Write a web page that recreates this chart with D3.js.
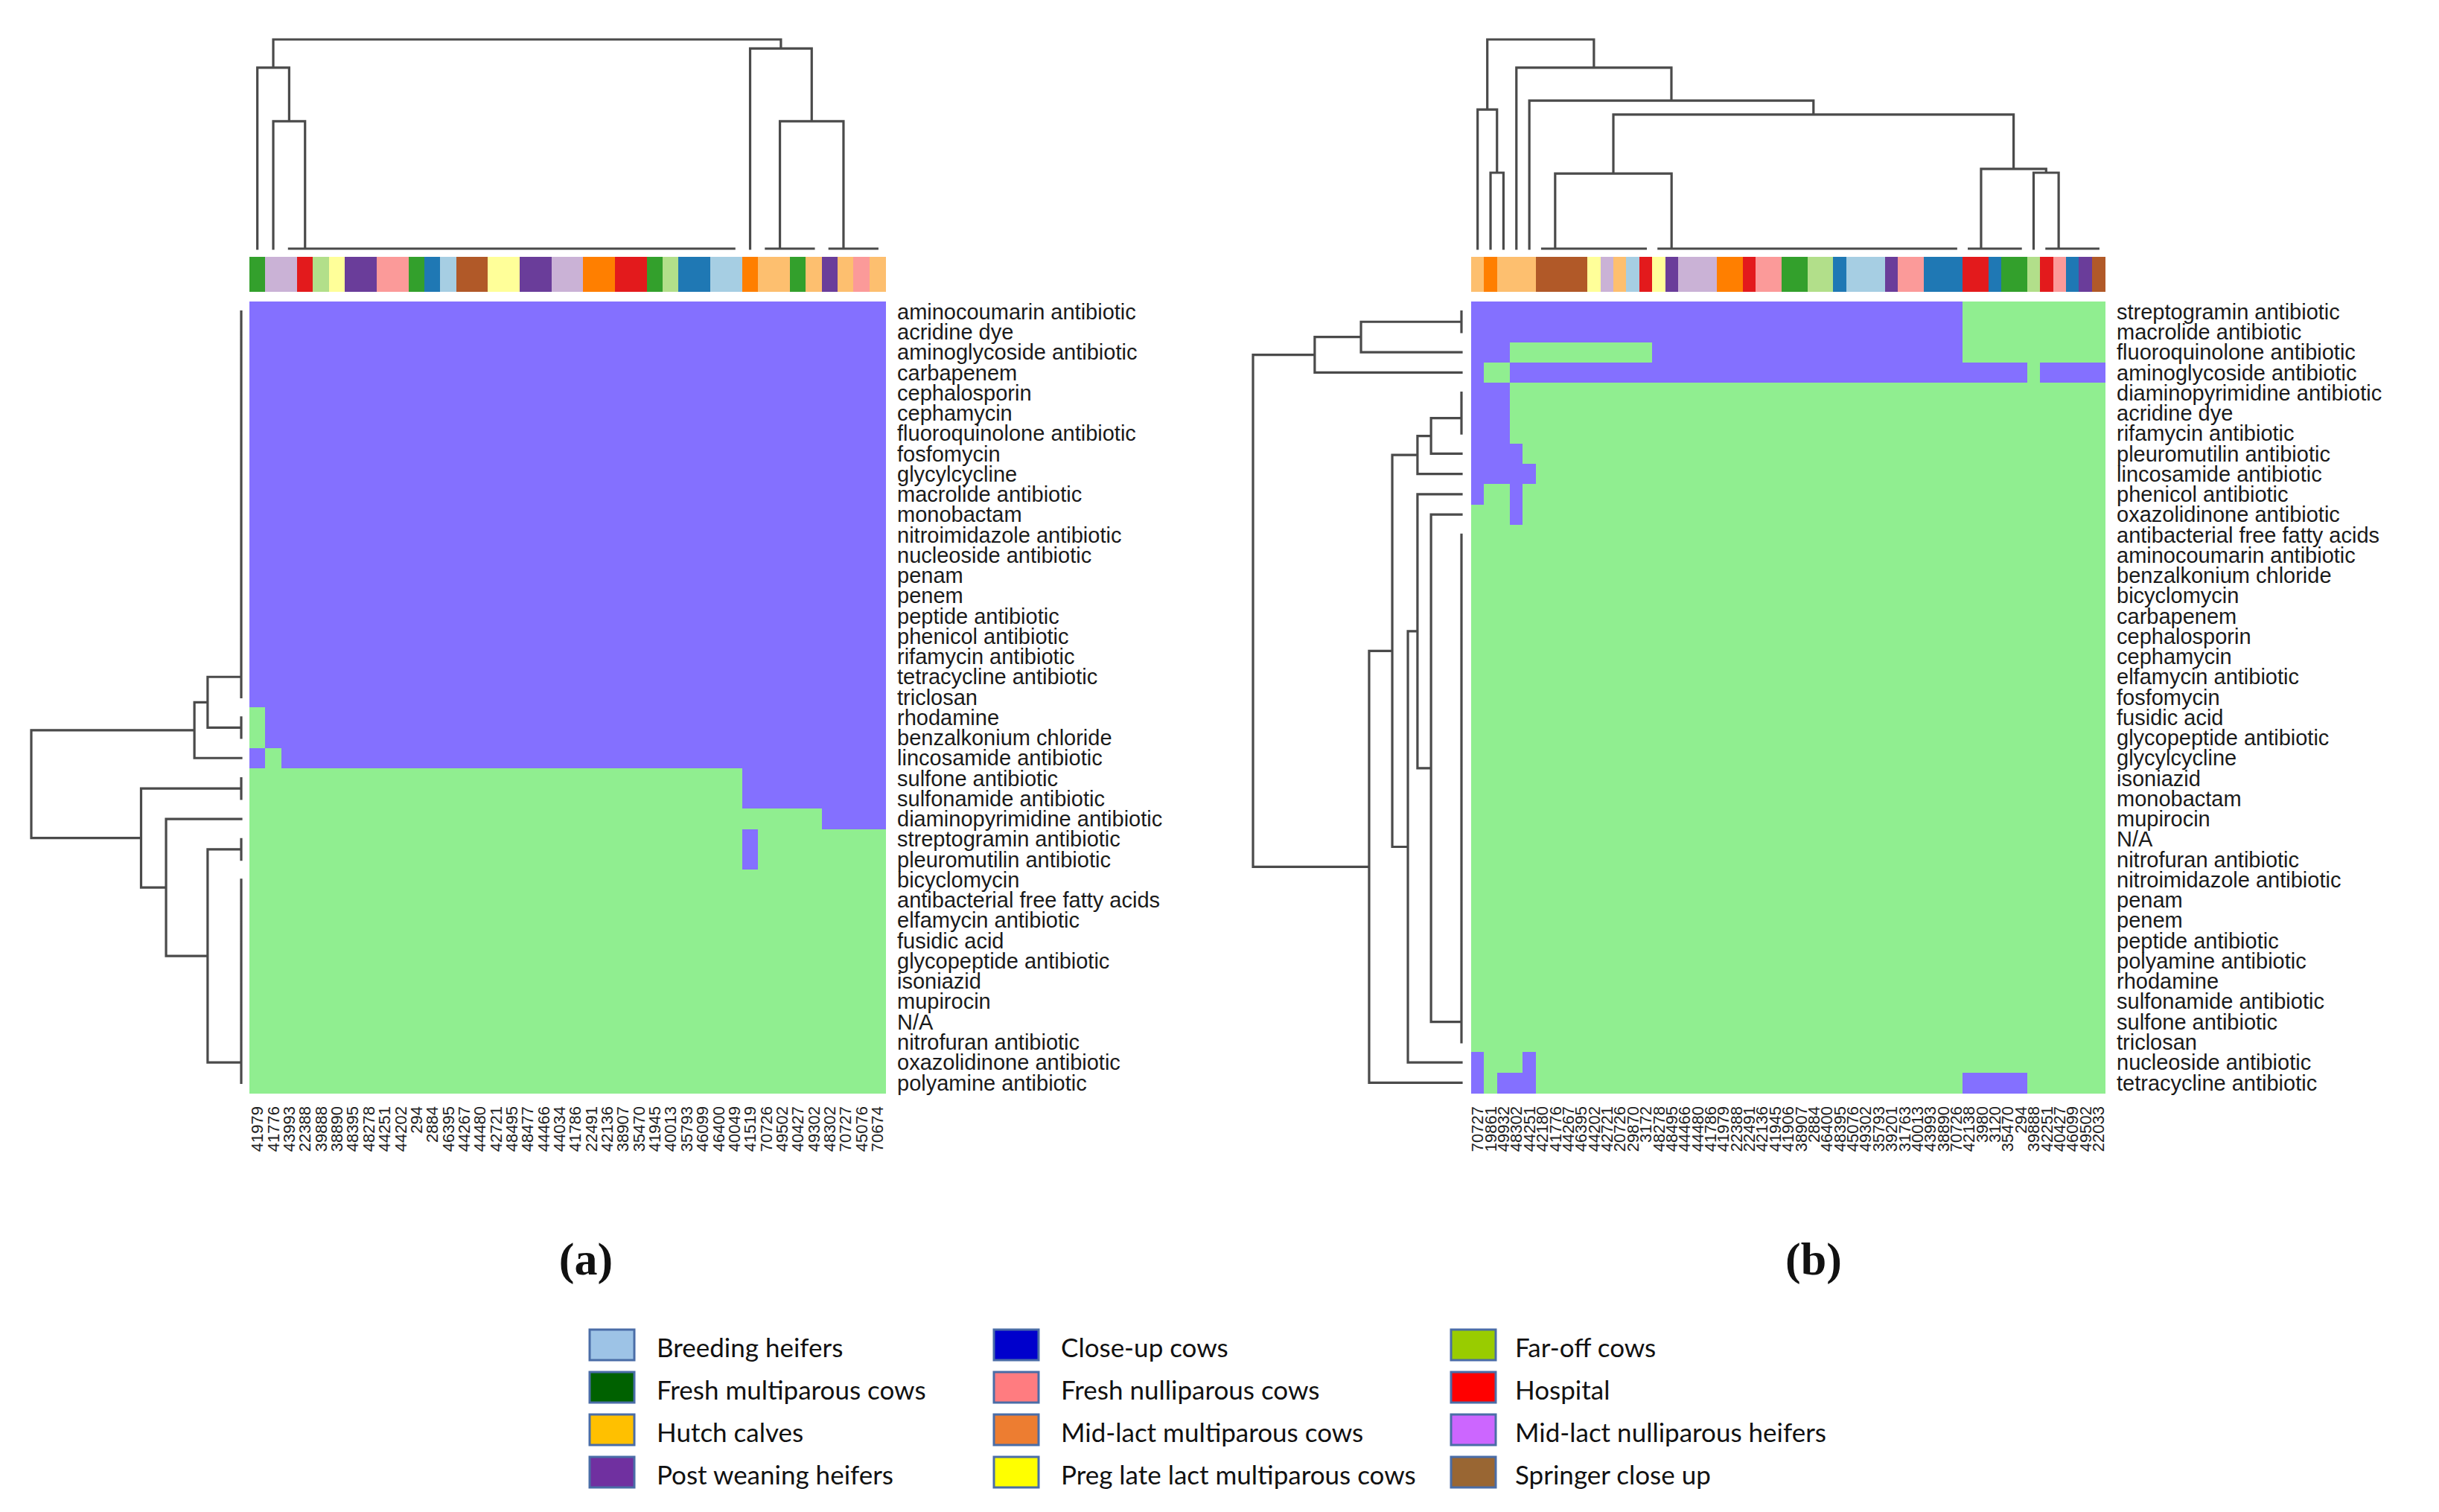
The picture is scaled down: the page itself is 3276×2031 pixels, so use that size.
<!DOCTYPE html>
<html lang="en">
<head>
<meta charset="UTF-8">
<title>Resistance classes by sample</title>
<script src="https://d3js.org/d3.v7.min.js"></script>
<style>
  body { margin: 0; background: #fff; }
  svg { display: block; background: #fff; }
  .rowlab { font-family: "Liberation Sans", Arial, sans-serif; font-size: 29px; fill: #1a1a1a; }
  .collab { font-family: "Liberation Sans", Arial, sans-serif; font-size: 22px; fill: #222; }
  .dendro { fill: none; stroke: #4a4a4a; stroke-width: 3.2px; stroke-linecap: square; }
  .tag { font-family: "Liberation Serif", "DejaVu Serif", serif; font-weight: bold; font-size: 62px; fill: #111; }
  .leg { font-family: Lato, "Open Sans", sans-serif; font-size: 35px; fill: #111; }
</style>
</head>
<body>
<svg width="3276" height="2031"></svg>
<script>
// ---- data ----
// sample groups (alphabetical order -> Paired palette)
const groupCodes = ["BH", "CU", "FO", "FM", "FN", "H", "HC", "MM", "MN", "PW", "PL", "SC"];

// (a)
const rowsA = ["aminocoumarin antibiotic", "acridine dye", "aminoglycoside antibiotic", "carbapenem",
  "cephalosporin", "cephamycin", "fluoroquinolone antibiotic", "fosfomycin", "glycylcycline",
  "macrolide antibiotic", "monobactam", "nitroimidazole antibiotic", "nucleoside antibiotic", "penam",
  "penem", "peptide antibiotic", "phenicol antibiotic", "rifamycin antibiotic", "tetracycline antibiotic",
  "triclosan", "rhodamine", "benzalkonium chloride", "lincosamide antibiotic", "sulfone antibiotic",
  "sulfonamide antibiotic", "diaminopyrimidine antibiotic", "streptogramin antibiotic",
  "pleuromutilin antibiotic", "bicyclomycin", "antibacterial free fatty acids", "elfamycin antibiotic",
  "fusidic acid", "glycopeptide antibiotic", "isoniazid", "mupirocin", "N/A", "nitrofuran antibiotic",
  "oxazolidinone antibiotic", "polyamine antibiotic"];
const colsA = ["41979", "41776", "43993", "22388", "39888", "38890", "48395", "48278", "44251", "44202",
  "294", "2884", "46395", "44267", "44480", "42721", "48495", "48477", "44466", "44034",
  "41786", "22491", "42136", "38907", "35470", "41945", "40013", "35793", "46099", "46400",
  "40049", "41519", "70726", "49502", "40427", "49302", "48302", "70727", "45076", "70674"];
const groupsA = ["FM", "MN", "MN", "H", "FO", "PL", "PW", "PW", "FN", "FN",
  "FM", "CU", "BH", "SC", "SC", "PL", "PL", "PW", "PW", "MN",
  "MN", "MM", "MM", "H", "H", "FM", "FO", "CU", "CU", "BH",
  "BH", "MM", "HC", "HC", "FM", "HC", "PW", "HC", "FN", "HC"];
// 1 = detected (purple), 0 = absent (green); groups of ten columns
const cellsA = [
  "1111111111 1111111111 1111111111 1111111111",
  "1111111111 1111111111 1111111111 1111111111",
  "1111111111 1111111111 1111111111 1111111111",
  "1111111111 1111111111 1111111111 1111111111",
  "1111111111 1111111111 1111111111 1111111111",
  "1111111111 1111111111 1111111111 1111111111",
  "1111111111 1111111111 1111111111 1111111111",
  "1111111111 1111111111 1111111111 1111111111",
  "1111111111 1111111111 1111111111 1111111111",
  "1111111111 1111111111 1111111111 1111111111",
  "1111111111 1111111111 1111111111 1111111111",
  "1111111111 1111111111 1111111111 1111111111",
  "1111111111 1111111111 1111111111 1111111111",
  "1111111111 1111111111 1111111111 1111111111",
  "1111111111 1111111111 1111111111 1111111111",
  "1111111111 1111111111 1111111111 1111111111",
  "1111111111 1111111111 1111111111 1111111111",
  "1111111111 1111111111 1111111111 1111111111",
  "1111111111 1111111111 1111111111 1111111111",
  "1111111111 1111111111 1111111111 1111111111",
  "0111111111 1111111111 1111111111 1111111111",
  "0111111111 1111111111 1111111111 1111111111",
  "1011111111 1111111111 1111111111 1111111111",
  "0000000000 0000000000 0000000000 0111111111",
  "0000000000 0000000000 0000000000 0111111111",
  "0000000000 0000000000 0000000000 0000001111",
  "0000000000 0000000000 0000000000 0100000000",
  "0000000000 0000000000 0000000000 0100000000",
  "0000000000 0000000000 0000000000 0000000000",
  "0000000000 0000000000 0000000000 0000000000",
  "0000000000 0000000000 0000000000 0000000000",
  "0000000000 0000000000 0000000000 0000000000",
  "0000000000 0000000000 0000000000 0000000000",
  "0000000000 0000000000 0000000000 0000000000",
  "0000000000 0000000000 0000000000 0000000000",
  "0000000000 0000000000 0000000000 0000000000",
  "0000000000 0000000000 0000000000 0000000000",
  "0000000000 0000000000 0000000000 0000000000",
  "0000000000 0000000000 0000000000 0000000000"];
// dendrograms: {h, l, r}; leaf = index; "a:b" = identical leaves merged at height 0
const colTreeA = {h: 1, l: {h: 0.865, l: 0, r: {h: 0.609, l: 1, r: "2:30"}},
  r: {h: 0.957, l: 31, r: {h: 0.609, l: "32:35", r: "36:39"}}};
const rowTreeA = {h: 1, l: {h: 0.223, l: {h: 0.16, l: "0:19", r: "20:21"}, r: 22},
  r: {h: 0.477, l: "23:24", r: {h: 0.358, l: 25, r: {h: 0.16, l: "26:27", r: "28:38"}}}};

// (b)
const rowsB = ["streptogramin antibiotic", "macrolide antibiotic", "fluoroquinolone antibiotic",
  "aminoglycoside antibiotic", "diaminopyrimidine antibiotic", "acridine dye", "rifamycin antibiotic",
  "pleuromutilin antibiotic", "lincosamide antibiotic", "phenicol antibiotic", "oxazolidinone antibiotic",
  "antibacterial free fatty acids", "aminocoumarin antibiotic", "benzalkonium chloride", "bicyclomycin",
  "carbapenem", "cephalosporin", "cephamycin", "elfamycin antibiotic", "fosfomycin", "fusidic acid",
  "glycopeptide antibiotic", "glycylcycline", "isoniazid", "monobactam", "mupirocin", "N/A",
  "nitrofuran antibiotic", "nitroimidazole antibiotic", "penam", "penem", "peptide antibiotic",
  "polyamine antibiotic", "rhodamine", "sulfonamide antibiotic", "sulfone antibiotic", "triclosan",
  "nucleoside antibiotic", "tetracycline antibiotic"];
const colsB = ["70727", "19861", "49932", "48302", "44251", "42180", "41776", "44267", "46395", "44202",
  "42721", "20726", "29870", "3172", "48278", "48495", "44466", "44480", "41786", "41979",
  "22388", "22491", "42136", "41945", "41906", "38907", "2884", "46400", "48395", "45076",
  "49302", "35793", "39201", "31763", "40013", "43993", "38890", "70726", "42138", "3980",
  "3120", "35470", "294", "39888", "42251", "40427", "46099", "49502", "22033"];
const groupsB = ["HC", "MM", "HC", "HC", "HC", "SC", "SC", "SC", "SC", "PL",
  "MN", "HC", "BH", "H", "PL", "PW", "MN", "MN", "MN", "MM",
  "MM", "H", "FN", "FN", "FM", "FM", "FO", "FO", "CU", "BH",
  "BH", "BH", "PW", "FN", "FN", "CU", "CU", "CU", "H", "H",
  "CU", "FM", "FM", "FO", "H", "FN", "CU", "PW", "SC"];
const cellsB = [
  "1111111111 1111111111 1111111111 1111111100 000000000",
  "1111111111 1111111111 1111111111 1111111100 000000000",
  "1110000000 0000111111 1111111111 1111111100 000000000",
  "1001111111 1111111111 1111111111 1111111111 111011111",
  "1110000000 0000000000 0000000000 0000000000 000000000",
  "1110000000 0000000000 0000000000 0000000000 000000000",
  "1110000000 0000000000 0000000000 0000000000 000000000",
  "1111000000 0000000000 0000000000 0000000000 000000000",
  "1111100000 0000000000 0000000000 0000000000 000000000",
  "1001000000 0000000000 0000000000 0000000000 000000000",
  "0001000000 0000000000 0000000000 0000000000 000000000",
  "0000000000 0000000000 0000000000 0000000000 000000000",
  "0000000000 0000000000 0000000000 0000000000 000000000",
  "0000000000 0000000000 0000000000 0000000000 000000000",
  "0000000000 0000000000 0000000000 0000000000 000000000",
  "0000000000 0000000000 0000000000 0000000000 000000000",
  "0000000000 0000000000 0000000000 0000000000 000000000",
  "0000000000 0000000000 0000000000 0000000000 000000000",
  "0000000000 0000000000 0000000000 0000000000 000000000",
  "0000000000 0000000000 0000000000 0000000000 000000000",
  "0000000000 0000000000 0000000000 0000000000 000000000",
  "0000000000 0000000000 0000000000 0000000000 000000000",
  "0000000000 0000000000 0000000000 0000000000 000000000",
  "0000000000 0000000000 0000000000 0000000000 000000000",
  "0000000000 0000000000 0000000000 0000000000 000000000",
  "0000000000 0000000000 0000000000 0000000000 000000000",
  "0000000000 0000000000 0000000000 0000000000 000000000",
  "0000000000 0000000000 0000000000 0000000000 000000000",
  "0000000000 0000000000 0000000000 0000000000 000000000",
  "0000000000 0000000000 0000000000 0000000000 000000000",
  "0000000000 0000000000 0000000000 0000000000 000000000",
  "0000000000 0000000000 0000000000 0000000000 000000000",
  "0000000000 0000000000 0000000000 0000000000 000000000",
  "0000000000 0000000000 0000000000 0000000000 000000000",
  "0000000000 0000000000 0000000000 0000000000 000000000",
  "0000000000 0000000000 0000000000 0000000000 000000000",
  "0000000000 0000000000 0000000000 0000000000 000000000",
  "1000100000 0000000000 0000000000 0000000000 000000000",
  "1011100000 0000000000 0000000000 0000000011 111000000"];
const colTreeB = {h: 1, l: {h: 0.665, l: 0, r: {h: 0.363, l: 1, r: 2}},
  r: {h: 0.865, l: 3, r: {h: 0.708, l: 4, r: {h: 0.641,
    l: {h: 0.359, l: "5:13", r: "14:37"},
    r: {h: 0.381, l: "38:42", r: {h: 0.363, l: 43, r: "44:48"}}}}}};
const rowTreeB = {h: 1, l: {h: 0.704, l: {h: 0.482, l: "0:1", r: 2}, r: 3},
  r: {h: 0.443, l: {h: 0.332,
      l: {h: 0.211, l: {h: 0.146, l: "4:6", r: 7}, r: 8},
      r: {h: 0.257, l: {h: 0.211, l: 9, r: {h: 0.146, l: 10, r: "11:36"}}, r: 37}},
    r: 38}};

// legend (as in the pasted key, column by column)
const legendNames = ["Breeding heifers", "Fresh multiparous cows", "Hutch calves", "Post weaning heifers",
  "Close-up cows", "Fresh nulliparous cows", "Mid-lact multiparous cows", "Preg late lact multiparous cows",
  "Far-off cows", "Hospital", "Mid-lact nulliparous heifers", "Springer close up"];
const legendColors = ["#9DC3E6", "#006100", "#FFC000", "#7030A0", "#0000CC", "#FF7C80",
  "#ED7D31", "#FFFF00", "#99CC00", "#FF0000", "#CC66FF", "#996633"];

// ---- drawing ----
const svg = d3.select("svg");
const groupColor = d3.scaleOrdinal().domain(groupCodes).range(d3.schemePaired);
const cellColor = d3.scaleOrdinal().domain([0, 1]).range(["#90EE90", "#8470FF"]);

// turn "a:b" into a chain of zero-height merges
function expand(node, dir) {
  if (typeof node === "number") return node;
  if (typeof node === "string") {
    const [a, b] = node.split(":").map(Number);
    const leaves = d3.range(a, b + 1);
    return dir === "left"
      ? leaves.reduce((acc, v) => ({h: 0, l: acc, r: v}))
      : leaves.reduceRight((acc, v) => ({h: 0, l: v, r: acc}));
  }
  return {h: node.h, l: expand(node.l, dir), r: expand(node.r, dir)};
}

// elbow segments in (position, height) space, node pos = midpoint of children
function segments(tree) {
  const segs = [];
  (function walk(n) {
    if (typeof n === "number") return {p: n, h: 0};
    const L = walk(n.l), R = walk(n.r);
    segs.push([L.p, L.h, L.p, n.h], [L.p, n.h, R.p, n.h], [R.p, n.h, R.p, R.h]);
    return {p: (L.p + R.p) / 2, h: n.h};
  })(tree);
  return segs;
}

function drawPanel(cfg) {
  const g = svg.append("g");
  const nC = cfg.cols.length, nR = cfg.rows.length;
  const x = d3.scaleBand().domain(d3.range(nC)).range([cfg.x0, cfg.x1]);
  const y = d3.scaleBand().domain(d3.range(nR)).range([cfg.y0, cfg.y1]);
  const xPos = d3.scaleLinear().domain([0, nC]).range([cfg.x0, cfg.x1]);
  const yPos = d3.scaleLinear().domain([0, nR]).range([cfg.y0, cfg.y1]);
  const hTop = d3.scaleLinear().domain([0, 1]).range([cfg.leafY, cfg.rootY]);
  const hLeft = d3.scaleLinear().domain([0, 1]).range([cfg.leafX, cfg.rootX]);

  const matrix = cfg.cells.map(s => s.replace(/ /g, "").split("").map(Number));
  const cells = [];
  matrix.forEach((row, r) => row.forEach((v, c) => cells.push({r, c, v})));

  g.append("g").selectAll("rect").data(cells).join("rect")
    .attr("x", d => x(d.c)).attr("y", d => y(d.r))
    .attr("width", x.bandwidth() + 0.6).attr("height", y.bandwidth() + 0.6)
    .attr("fill", d => cellColor(d.v))
    .attr("shape-rendering", "crispEdges");

  // group colour strip
  g.append("g").selectAll("rect").data(cfg.groups).join("rect")
    .attr("x", (d, i) => x(i)).attr("y", cfg.barY0)
    .attr("width", x.bandwidth() + 0.6).attr("height", cfg.barY1 - cfg.barY0)
    .attr("fill", d => groupColor(d))
    .attr("shape-rendering", "crispEdges");

  // column dendrogram
  const cs = segments(expand(cfg.colTree, "right"));
  g.append("path").attr("class", "dendro")
    .attr("d", cs.map(s => `M${xPos(s[0] + 0.5)},${hTop(s[1])}L${xPos(s[2] + 0.5)},${hTop(s[3])}`).join(""));

  // row dendrogram
  const rs = segments(expand(cfg.rowTree, "left"));
  g.append("path").attr("class", "dendro")
    .attr("d", rs.map(s => `M${hLeft(s[1])},${yPos(s[0] + 0.5)}L${hLeft(s[3])},${yPos(s[2] + 0.5)}`).join(""));

  // row labels
  g.append("g").selectAll("text").data(cfg.rows).join("text")
    .attr("class", "rowlab")
    .attr("x", cfg.x1 + 16)
    .attr("y", (d, i) => y(i) + y.bandwidth() / 2)
    .attr("dy", "0.35em")
    .text(d => d);

  // column labels, rotated
  g.append("g").selectAll("text").data(cfg.cols).join("text")
    .attr("class", "collab")
    .attr("text-anchor", "end")
    .attr("dy", "0.35em")
    .attr("transform", (d, i) => `translate(${x(i) + x.bandwidth() / 2},${cfg.y1 + 18}) rotate(-90)`)
    .text(d => d);

  svg.append("text").attr("class", "tag")
    .attr("x", cfg.tagX).attr("y", 1712).attr("text-anchor", "middle")
    .text(cfg.tag);
}

drawPanel({rows: rowsA, cols: colsA, groups: groupsA, cells: cellsA, colTree: colTreeA, rowTree: rowTreeA,
  x0: 335, x1: 1189, y0: 405, y1: 1468, barY0: 345, barY1: 392, leafY: 334, rootY: 53,
  leafX: 324, rootX: 42, tag: "(a)", tagX: 787});
drawPanel({rows: rowsB, cols: colsB, groups: groupsB, cells: cellsB, colTree: colTreeB, rowTree: rowTreeB,
  x0: 1976, x1: 2827, y0: 405, y1: 1468, barY0: 345, barY1: 392, leafY: 334, rootY: 53,
  leafX: 1963, rootX: 1683, tag: "(b)", tagX: 2436});

// legend
const legCol = d3.scaleOrdinal().domain([0, 1, 2]).range([792, 1335, 1949]);
const legRow = d3.scaleLinear().domain([0, 1]).range([1786, 1843]);
const leg = svg.append("g").selectAll("g").data(legendNames).join("g")
  .attr("transform", (d, i) => `translate(${legCol(Math.floor(i / 4))},${legRow(i % 4)})`);
leg.append("rect")
  .attr("width", 60).attr("height", 41)
  .attr("fill", (d, i) => legendColors[i])
  .attr("stroke", "#4a6da7").attr("stroke-width", 3);
leg.append("text").attr("class", "leg")
  .attr("x", (d, i) => Math.floor(i / 4) === 2 ? 86 : 90)
  .attr("y", 37)
  .text(d => d);
</script>
</body>
</html>
